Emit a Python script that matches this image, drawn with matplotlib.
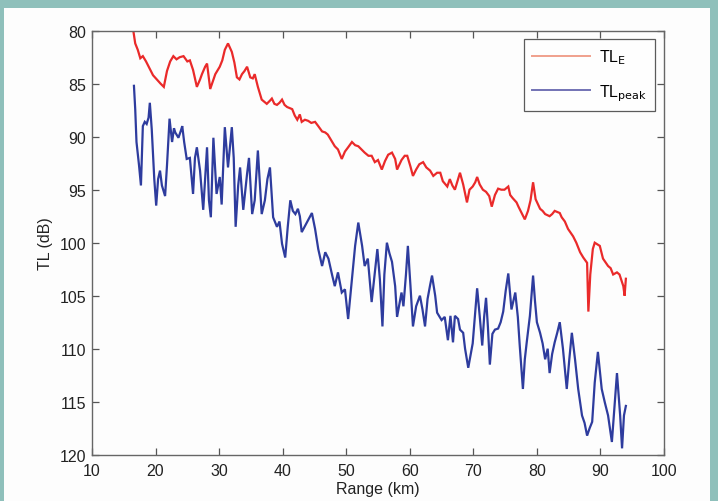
import matplotlib
matplotlib.use("Agg")
import matplotlib.pyplot as plt
from matplotlib.patches import Rectangle
from matplotlib.lines import Line2D

plt.rcParams['font.family'] = ['Liberation Sans', 'DejaVu Sans']

# TL_E (red) : range (km), TL (dB)
range_e = [16.5, 16.8, 17.2, 17.6, 18.0, 18.5, 19.0, 19.6, 20.2, 20.8, 21.3, 21.8, 22.3, 22.8,
           23.3, 23.8, 24.4, 25.0, 25.4, 25.9, 26.5, 27.0, 27.3, 27.8, 28.1, 28.6, 29.0, 29.4,
           30.1, 30.5, 30.9, 31.4, 32.0, 32.4, 32.8, 33.2, 33.6, 34.0, 34.4, 34.9, 35.3, 35.6,
           36.1, 36.7, 37.1, 37.5, 38.0, 38.3, 38.7, 39.1, 39.5, 39.9, 40.3, 40.7, 41.1, 41.5,
           41.9, 42.3, 42.7, 43.0, 43.5, 44.0, 44.5, 45.1, 45.6, 46.2, 46.7, 47.1, 47.6, 48.2,
           48.7, 49.3, 49.8, 50.3, 50.9, 51.4, 51.9, 52.4, 52.9, 53.5, 54.0, 54.5, 55.0, 55.6,
           56.1, 56.6, 57.2, 57.7, 58.0, 58.7, 59.2, 59.6, 60.1, 60.5, 61.0, 61.5, 62.1, 62.6,
           63.2, 63.7, 64.3, 64.8, 65.2, 65.9, 66.3, 66.7, 67.1, 67.5, 67.9, 68.4, 69.0, 69.4,
           69.9, 70.3, 70.6, 71.0, 71.5, 72.0, 72.5, 72.9, 73.4, 73.9, 74.4, 74.9, 75.5, 75.8,
           76.2, 76.8, 77.1, 77.6, 78.1, 78.6, 79.0, 79.4, 79.8, 80.5, 80.9, 81.3, 82.0, 82.4,
           82.8, 83.6, 83.9, 84.4, 84.9, 85.7, 86.2, 86.8, 87.3, 87.9, 88.1, 88.4, 88.8, 89.1,
           89.9, 90.4, 91.2, 91.6, 92.0, 92.6, 93.0, 93.6, 93.8, 94.0]
tl_e = [80.0, 81.2, 81.8, 82.6, 82.4, 82.9, 83.5, 84.2, 84.6, 85.0, 85.3, 83.8, 82.9, 82.4,
        82.7, 82.5, 82.4, 82.9, 82.8, 83.7, 85.3, 84.6, 84.1, 83.4, 83.1, 85.5, 84.8, 84.1,
        83.4, 82.8, 81.8, 81.2, 82.0, 83.0, 84.4, 84.6, 84.1, 83.8, 83.4, 84.4, 84.5, 84.1,
        85.3, 86.5, 86.7, 86.9, 86.6, 86.4, 86.9, 87.0, 86.8, 86.5, 87.0, 87.2, 87.3, 87.4,
        88.0, 88.4, 87.9, 88.6, 88.4, 88.5, 88.7, 88.6, 89.0, 89.5, 89.6, 89.8, 90.3, 90.9,
        91.2, 92.1, 91.4, 91.0, 90.5, 90.8, 90.9, 91.2, 91.5, 91.8, 91.8, 92.4, 92.2, 93.1,
        92.3, 91.7, 91.5, 92.1, 93.1, 92.2, 91.8, 91.8, 92.8, 93.7, 93.1, 92.6, 92.4, 92.9,
        93.2, 93.7, 93.4, 93.4, 94.2, 94.7, 94.0, 94.6, 95.0, 94.2, 93.4, 94.5, 96.2, 95.0,
        94.7, 94.3, 93.8, 94.5, 95.0, 95.2, 95.6, 96.6, 95.5, 94.9, 95.0, 95.0, 94.7, 95.5,
        95.8, 96.2, 96.6, 97.2, 97.8, 97.0, 96.0, 94.3, 95.9, 96.8, 97.0, 97.3, 97.5, 97.3,
        97.0, 97.2, 97.6, 98.0, 98.7, 99.4, 100.0, 100.9, 101.4, 101.9, 106.5, 103.0, 100.6, 100.0,
        100.3, 101.5, 102.2, 102.4, 103.0, 102.8, 103.0, 104.1, 105.0, 103.4]

# TL_peak (blue)
range_p = [16.6, 16.8, 17.0, 17.4, 17.7, 18.0, 18.3, 18.6, 18.9, 19.1, 19.4, 19.8, 20.1, 20.4,
           20.7, 21.0, 21.5, 21.8, 22.2, 22.6, 22.9, 23.1, 23.6, 24.0, 24.2, 24.5, 24.9, 25.4,
           25.9, 26.2, 26.5, 27.0, 27.5, 27.8, 28.1, 28.4, 28.7, 29.1, 29.6, 30.1, 30.4, 30.9,
           31.4, 32.0, 32.3, 32.6, 33.0, 33.3, 33.8, 34.4, 34.7, 35.2, 35.6, 36.1, 36.7, 37.2,
           37.6, 38.0, 38.5, 39.1, 39.5, 39.9, 40.4, 40.8, 41.2, 41.6, 42.0, 42.4, 42.7, 43.0,
           43.8, 44.6, 45.1, 45.6, 46.2, 46.7, 47.2, 47.8, 48.2, 48.7, 49.3, 49.8, 50.3, 50.9,
           51.4, 51.9, 52.5, 52.9, 53.4, 54.0, 54.5, 54.9, 55.3, 55.7, 56.0, 56.4, 56.8, 57.2,
           57.7, 58.0, 58.3, 58.7, 59.0, 59.4, 59.7, 60.1, 60.5, 61.0, 61.6, 62.0, 62.4, 62.8,
           63.2, 63.5, 64.0, 64.3, 65.0, 65.5, 66.0, 66.4, 66.8, 67.1, 67.6, 67.9, 68.4, 68.7,
           69.2, 69.6, 69.9, 70.3, 70.6, 71.0, 71.4, 71.7, 72.0, 72.3, 72.6, 73.0, 73.4, 73.9,
           74.3, 74.7, 75.1, 75.5, 76.0, 76.6, 77.0, 77.3, 77.8, 78.1, 78.4, 78.9, 79.4, 79.7,
           80.0, 80.5, 80.9, 81.3, 81.7, 82.0, 82.4, 82.8, 83.2, 83.6, 84.1, 84.7, 85.1, 85.5,
           86.0, 86.5, 87.1, 87.5, 87.9, 88.3, 88.7, 89.1, 89.6, 90.2, 90.7, 91.2, 91.8, 92.3,
           92.6, 93.1, 93.4, 93.7, 94.0]
tl_peak = [85.2, 87.4, 90.5, 92.7, 94.6, 89.0, 88.6, 88.8, 88.2, 86.8, 89.3, 94.0, 96.5, 94.0,
           93.2, 94.6, 95.6, 92.7, 88.3, 90.5, 89.2, 89.6, 90.1, 89.4, 89.0, 90.5, 92.1, 92.0,
           95.4, 92.0, 91.0, 93.2, 96.9, 94.0, 91.0, 96.0, 97.6, 90.1, 95.4, 93.8, 96.4, 89.1,
           92.9, 89.1, 92.0, 98.5, 94.6, 92.9, 96.9, 93.5, 92.0, 97.3, 96.0, 91.3, 97.3, 96.0,
           94.0, 92.9, 97.6, 98.5, 98.0, 100.1, 101.4, 98.5, 96.0, 97.0, 97.3, 96.8, 97.5, 99.0,
           98.1, 97.2, 98.7, 100.6, 102.2, 100.9, 101.5, 103.1, 104.1, 102.8, 104.7, 104.4, 107.2, 103.4,
           100.3, 98.1, 100.3, 102.2, 101.5, 105.6, 102.8, 100.6, 103.5, 107.9, 103.0, 100.0, 101.0, 101.8,
           104.1, 107.0, 106.0, 104.7, 106.0, 103.0, 100.3, 104.0, 107.9, 106.0, 105.0, 106.3, 107.9, 105.3,
           104.0, 103.1, 105.0, 106.6, 107.3, 107.0, 109.2, 106.9, 109.4, 106.9, 107.2, 108.2, 108.5, 110.0,
           111.8, 110.5, 109.5, 106.5, 104.3, 106.9, 109.7, 107.0, 105.2, 108.0, 111.5, 108.6, 108.2, 108.1,
           107.5, 106.5, 104.5, 102.9, 106.3, 104.7, 107.0, 109.7, 113.8, 111.0, 109.4, 106.9, 103.1, 105.5,
           107.5, 108.5, 109.5, 111.0, 110.0, 112.3, 110.5, 109.4, 108.5, 107.5, 110.0, 113.8, 111.0, 108.5,
           111.0, 113.8, 116.3, 117.0, 118.2, 117.5, 116.9, 113.2, 110.3, 113.8, 115.1, 116.3, 118.8, 114.8,
           112.3, 116.3, 119.4, 116.3, 115.4]

labels = [r'TL$_{\mathrm{E}}$', r'TL$_{\mathrm{peak}}$']
x_ticks = [10, 20, 30, 40, 50, 60, 70, 80, 90, 100]
y_ticks = [80, 85, 90, 95, 100, 105, 110, 115, 120]

W, H = 718, 502
fig = plt.figure(figsize=(W / 100, H / 100), dpi=100)
fig.patch.set_facecolor('#8fc0bb')
bg = Rectangle((4 / W, 0), (710 - 4) / W, (H - 9) / H,
               transform=fig.transFigure, facecolor='#fdfdfd',
               edgecolor='none', zorder=-10)
fig.add_artist(bg)

ax = fig.add_axes([92 / W, 1 - 455.7 / H, (664 - 92) / W, (455.7 - 31.7) / H])
ax.set_zorder(1)
ax.set_facecolor('#fdfdfd')

red = '#ea2a2a'
blue = '#2e3c9e'
ax.plot(range_e, tl_e, color=red, lw=1.6, solid_joinstyle='miter')
ax.plot(range_p, tl_peak, color=blue, lw=1.6, solid_joinstyle='miter')

ax.set_xlim(10, 100)
ax.set_ylim(120, 80)
ax.set_xticks(x_ticks)
ax.set_yticks(y_ticks)
ax.tick_params(direction='in', length=5, width=0.9, color='#555555',
               top=True, right=True, labelsize=11.5, labelcolor='#222222')
ax.tick_params(axis='x', pad=6)
ax.tick_params(axis='y', pad=4)
for s in ax.spines.values():
    s.set_color('#666666')
    s.set_linewidth(1.0)

ax.set_xlabel('Range (km)', fontsize=11.5, color='#222222', labelpad=2)
ax.set_ylabel('TL (dB)', fontsize=11.5, color='#222222', labelpad=5)

handles = [Line2D([], [], color='#f0a08c', lw=1.4),
           Line2D([], [], color='#7272b4', lw=1.4)]
leg = ax.legend(handles, labels, loc='upper right', fontsize=11.5, frameon=True,
                fancybox=False, edgecolor='#333333', handlelength=3.6,
                borderaxespad=0.55, labelspacing=1.0, handletextpad=0.6,
                borderpad=0.5)
leg.get_frame().set_linewidth(0.9)

fig.savefig('out.png', dpi=100, facecolor=fig.get_facecolor())
